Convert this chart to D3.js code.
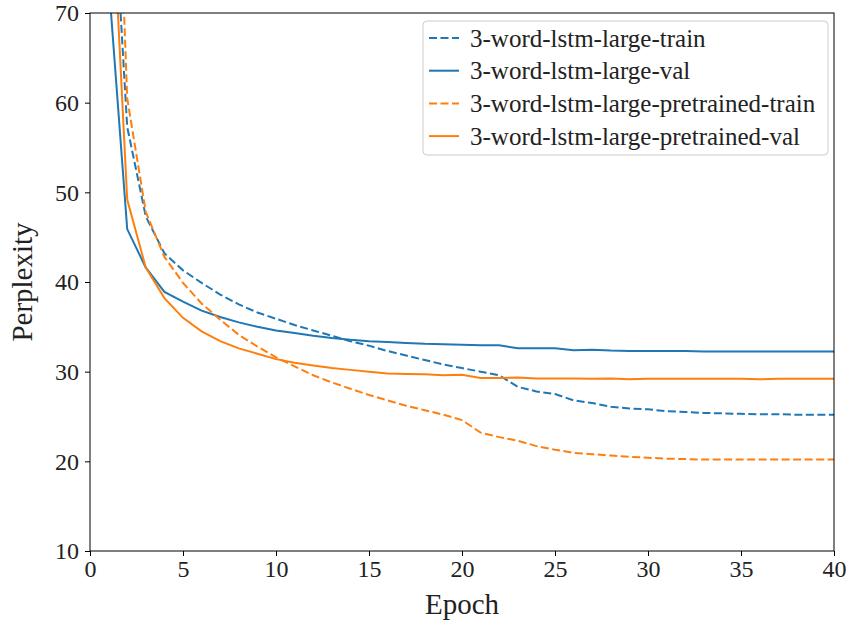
<!DOCTYPE html>
<html>
<head>
<meta charset="utf-8">
<script src="https://cdn.jsdelivr.net/npm/d3@7"></script>
<style>
  body { margin: 0; background: #fff; }
  svg { display: block; font-family: "Liberation Serif", "DejaVu Serif", serif; }
  .axis path, .axis line { stroke: #000; stroke-width: 1; }
  .axis text { fill: #222; }
</style>
</head>
<body>
<div id="chart"></div>
<script>
// epochs 1..40
const epochs = d3.range(1, 41);

const lstmTrain = [93, 57.3, 47.3, 43.2, 41.3, 39.9, 38.6, 37.5, 36.6, 35.9,
  35.2, 34.6, 34.0, 33.4, 32.9, 32.3, 31.8, 31.3, 30.8, 30.4,
  30.0, 29.6, 28.3, 27.8, 27.5, 26.8, 26.5, 26.1, 25.9, 25.8,
  25.6, 25.5, 25.4, 25.35, 25.3, 25.25, 25.25, 25.2, 25.2, 25.2];

const lstmVal = [73.6, 45.9, 41.6, 38.9, 37.8, 36.8, 36.1, 35.5, 35.0, 34.6,
  34.3, 34.0, 33.75, 33.55, 33.4, 33.3, 33.2, 33.1, 33.05, 33.0,
  32.95, 32.95, 32.6, 32.6, 32.6, 32.4, 32.45, 32.35, 32.3, 32.3,
  32.3, 32.3, 32.25, 32.25, 32.25, 32.25, 32.25, 32.25, 32.25, 32.25];

const pretrainedTrain = [117, 60.5, 47.8, 42.8, 39.9, 37.6, 35.8, 34.1, 32.8, 31.6,
  30.6, 29.6, 28.8, 28.1, 27.4, 26.8, 26.2, 25.7, 25.2, 24.6,
  23.2, 22.7, 22.3, 21.7, 21.3, 20.95, 20.8, 20.65, 20.5, 20.4,
  20.3, 20.25, 20.2, 20.2, 20.2, 20.2, 20.2, 20.2, 20.2, 20.2];

const pretrainedVal = [90.8, 49.2, 41.6, 38.2, 36.0, 34.5, 33.4, 32.6, 32.0, 31.4,
  31.0, 30.7, 30.4, 30.2, 30.0, 29.8, 29.75, 29.7, 29.6, 29.65,
  29.3, 29.3, 29.35, 29.25, 29.25, 29.25, 29.2, 29.25, 29.15, 29.2,
  29.2, 29.2, 29.2, 29.2, 29.2, 29.15, 29.2, 29.2, 29.2, 29.2];

const seriesNames = [
  '3-word-lstm-large-train',
  '3-word-lstm-large-val',
  '3-word-lstm-large-pretrained-train',
  '3-word-lstm-large-pretrained-val'
];

const xTicks = d3.range(0, 41, 5);
const yTicks = d3.range(10, 71, 10);

const series = [
  { name: seriesNames[0], values: lstmTrain, color: '#1f77b4', dashed: true },
  { name: seriesNames[1], values: lstmVal, color: '#1f77b4', dashed: false },
  { name: seriesNames[2], values: pretrainedTrain, color: '#ff7f0e', dashed: true },
  { name: seriesNames[3], values: pretrainedVal, color: '#ff7f0e', dashed: false }
];

const width = 851, height = 628;
const margin = { top: 13, right: 17, bottom: 77, left: 90 };
const innerW = width - margin.left - margin.right;
const innerH = height - margin.top - margin.bottom;
const serif = '"Liberation Serif", "DejaVu Serif", serif';

const svg = d3.select('#chart').append('svg')
  .attr('width', width)
  .attr('height', height);

const x = d3.scaleLinear().domain([0, 40]).range([0, innerW]);
const y = d3.scaleLinear().domain([10, 70]).range([innerH, 0]);

svg.append('defs').append('clipPath')
  .attr('id', 'plot-clip')
  .append('rect')
  .attr('width', innerW)
  .attr('height', innerH);

const chart = svg.append('g')
  .attr('transform', `translate(${margin.left},${margin.top})`);

const line = d3.line()
  .x((d, i) => x(epochs[i]))
  .y(d => y(d));

chart.append('g')
  .attr('clip-path', 'url(#plot-clip)')
  .selectAll('path')
  .data(series)
  .join('path')
  .attr('d', d => line(d.values))
  .attr('fill', 'none')
  .attr('stroke', d => d.color)
  .attr('stroke-width', 2)
  .attr('stroke-dasharray', d => d.dashed ? '8,3.5' : null);

// axes (d3 puts sans-serif/10px on the group, so override it)
chart.append('g')
  .attr('class', 'axis')
  .attr('transform', `translate(0,${innerH})`)
  .call(d3.axisBottom(x).tickValues(xTicks).tickSize(5).tickPadding(4))
  .attr('font-family', serif)
  .attr('font-size', 24)
  .call(g => g.select('.domain').remove());

chart.append('g')
  .attr('class', 'axis')
  .call(d3.axisLeft(y).tickValues(yTicks).tickSize(5).tickPadding(6))
  .attr('font-family', serif)
  .attr('font-size', 24)
  .call(g => g.select('.domain').remove());

// frame
chart.append('rect')
  .attr('width', innerW)
  .attr('height', innerH)
  .attr('fill', 'none')
  .attr('stroke', '#000')
  .attr('stroke-width', 1);

// axis labels
svg.append('text')
  .attr('x', margin.left + innerW / 2)
  .attr('y', 614)
  .attr('text-anchor', 'middle')
  .attr('font-size', 29)
  .attr('fill', '#222')
  .text('Epoch');

svg.append('text')
  .attr('transform', `translate(32,${margin.top + innerH / 2}) rotate(-90)`)
  .attr('text-anchor', 'middle')
  .attr('font-size', 29)
  .attr('fill', '#222')
  .text('Perplexity');

// legend
const legend = chart.append('g')
  .attr('transform', `translate(${423 - margin.left},${21 - margin.top})`);

legend.append('rect')
  .attr('width', 405)
  .attr('height', 134)
  .attr('rx', 4)
  .attr('fill', '#fff')
  .attr('fill-opacity', 0.8)
  .attr('stroke', '#ccc')
  .attr('stroke-width', 1);

const rows = legend.selectAll('g.row')
  .data(series)
  .join('g')
  .attr('class', 'row')
  .attr('transform', (d, i) => `translate(0,${17 + i * 32.7})`);

rows.append('line')
  .attr('x1', 6).attr('x2', 36)
  .attr('stroke', d => d.color)
  .attr('stroke-width', 2)
  .attr('stroke-dasharray', d => d.dashed ? '8,3.5' : null);

rows.append('text')
  .attr('x', 47)
  .attr('dy', '0.35em')
  .attr('font-family', serif)
  .attr('font-size', 25)
  .attr('fill', '#222')
  .text(d => d.name);
</script>
</body>
</html>
